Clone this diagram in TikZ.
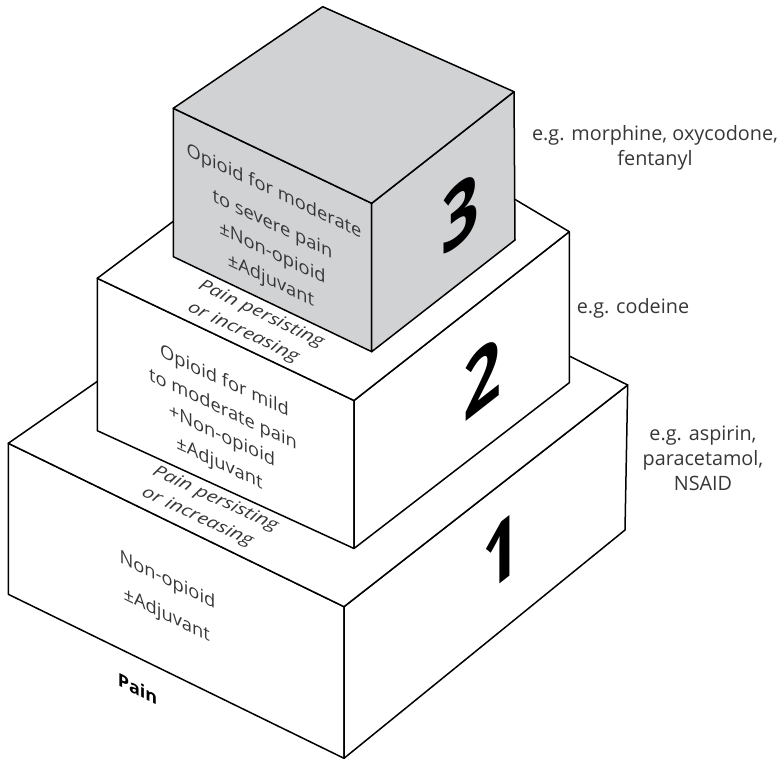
\documentclass[tikz,border=0pt]{standalone}
\usepackage{fontspec}
\setmainfont{Open Sans}
\definecolor{boxgray}{RGB}{209,210,212}
\definecolor{txtgray}{RGB}{55,55,55}
\begin{document}
\begin{tikzpicture}[x=1pt,y=-1pt,
  face/.style={draw=black, line width=1.5pt, line join=round, fill=white},
  grayface/.style={face, fill=boxgray},
  % vertical shear written as rotation + slanted, stretched font
  front3/.style={anchor=base, inner sep=0pt, text=txtgray, rotate=-25.50,
    font=\fontsize{16.52}{20}\selectfont\addfontfeatures{FakeSlant=-0.477,FakeStretch=1.2275}},
  front2/.style={anchor=base, inner sep=0pt, text=txtgray, rotate=-24.99,
    font=\fontsize{16.59}{20}\selectfont\addfontfeatures{FakeSlant=-0.466,FakeStretch=1.2172}},
  front1/.style={anchor=base, inner sep=0pt, text=txtgray, rotate=-25.96,
    font=\fontsize{16.45}{20}\selectfont\addfontfeatures{FakeSlant=-0.487,FakeStretch=1.2372}},
  painlbl/.style={anchor=base, inner sep=0pt, text=black, rotate=-26.06,
    font=\fontsize{16.17}{20}\selectfont\bfseries\addfontfeatures{FakeSlant=-0.489,FakeStretch=1.2391}},
  topup/.style={anchor=base, inner sep=0pt, text=txtgray, rotate=-25.50,
    font=\fontsize{16.54}{20}\selectfont\itshape\addfontfeatures{FakeSlant=0.096,FakeStretch=1.2725}},
  toplow/.style={anchor=base, inner sep=0pt, text=txtgray, rotate=-24.65,
    font=\fontsize{16.52}{20}\selectfont\itshape\addfontfeatures{FakeSlant=0.111,FakeStretch=1.2656}},
  digit/.style={anchor=center, inner sep=0pt, text=black, rotate=38.02,
    font=\fontsize{66.95}{70}\selectfont\bfseries\addfontfeatures{FakeSlant=0.782,FakeStretch=1.257}},
  egtext/.style={align=center, text=txtgray, inner sep=0pt,
    font=\fontsize{19.8}{25}\selectfont}]
\useasboundingbox (0,0) rectangle (780,759);

% ---------- vertices ----------
\coordinate (A1) at (8.3,443.3);  \coordinate (B1) at (8.3,594.3);
\coordinate (C1) at (344,606.7);  \coordinate (D1) at (344,758.3);
\coordinate (E1) at (627.7,385);  \coordinate (F1) at (625,530);
\coordinate (G1) at (315,230);

\coordinate (A2) at (97.3,278.3); \coordinate (B2) at (97.3,430.7);
\coordinate (C2) at (354,400.5);  \coordinate (D2) at (354,548.5);
\coordinate (E2) at (569.3,231.7);\coordinate (F2) at (569.3,382.7);
\coordinate (G2) at (340.6,95.8);

\coordinate (A3) at (173.3,108.3);\coordinate (B3) at (173.3,256.7);
\coordinate (C3) at (371.7,203.3);\coordinate (D3) at (371.7,351.7);
\coordinate (E3) at (514,91.7);   \coordinate (F3) at (515,240);
\coordinate (G3) at (322.7,6.7);

% ---------- box 1 ----------
\filldraw[face] (A1) -- (C1) -- (D1) -- (B1) -- cycle;
\filldraw[face] (C1) -- (E1) -- (F1) -- (D1) -- cycle;
\filldraw[face] (A1) -- (G1) -- (E1) -- (C1) -- cycle;
% ---------- box 2 ----------
\filldraw[face] (A2) -- (C2) -- (D2) -- (B2) -- cycle;
\filldraw[face] (C2) -- (E2) -- (F2) -- (D2) -- cycle;
\filldraw[face] (A2) -- (G2) -- (E2) -- (C2) -- cycle;
% ---------- box 3 ----------
\filldraw[grayface] (A3) -- (C3) -- (D3) -- (B3) -- cycle;
\filldraw[grayface] (C3) -- (E3) -- (F3) -- (D3) -- cycle;
\filldraw[grayface] (A3) -- (G3) -- (E3) -- (C3) -- cycle;

% ---------- front texts (one node per printed line) ----------
\node[front3] (t3a) at (274,197)   {Opioid for moderate};
\node[front3] (t3b) at (272.5,230) {to severe pain};
\node[front3] (t3c) at (272.5,259) {±Non-opioid};
\node[front3] (t3d) at (271,286)   {±Adjuvant};

\node[front2] (t2a) at (224.5,387) {Opioid for mild};
\node[front2] (t2b) at (223,415)   {to moderate pain};
\node[front2] (t2c) at (222,441.5) {+Non-opioid};
\node[front2] (t2d) at (219.5,469) {±Adjuvant};

\node[front1] (t1a) at (167.5,585.7) {Non-opioid};
\node[front1] (t1b) at (166.7,620.7) {±Adjuvant};

\node[painlbl] (pain) at (137.5,695.5) {Pain};

% ---------- step texts on top faces ----------
\node[topup] (s3a) at (259,318) {Pain persisting};
\node[topup] (s3b) at (241,336) {or increasing};
\node[toplow] (s2a) at (213.3,503) {Pain persisting};
\node[toplow] (s2b) at (195.2,521) {or increasing};

% ---------- digits on right faces ----------
\node[digit] (n3) at (446,225)   {3};
\node[digit, rotate=0.02] (n2) at (467.5,390) {2};
\node[digit] (n1) at (486.5,564) {1};

% ---------- examples ----------
\node[egtext] (eg3) at (655,147.5) {e.g. morphine, oxycodone,\\fentanyl};
\node[egtext] (eg2) at (633,308.3) {e.g. codeine};
\node[egtext] (eg1) at (703,458.8) {e.g. aspirin,\\paracetamol,\\NSAID};
\end{tikzpicture}
\end{document}
